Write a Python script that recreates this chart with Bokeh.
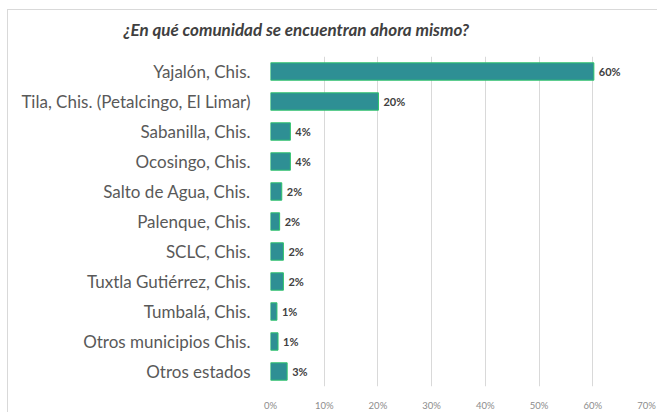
from bokeh.plotting import figure
from bokeh.models import ColumnDataSource, FactorRange, Range1d, FixedTicker, NumeralTickFormatter, Title
from bokeh.core.properties import value
from bokeh.embed import file_html
from bokeh.resources import INLINE

title_text = "¿En qué comunidad se encuentran ahora mismo?"
categories = [
    "Yajalón, Chis.",
    "Tila, Chis. (Petalcingo, El Limar)",
    "Sabanilla, Chis.",
    "Ocosingo, Chis.",
    "Salto de Agua, Chis.",
    "Palenque, Chis.",
    "SCLC, Chis.",
    "Tuxtla Gutiérrez, Chis.",
    "Tumbalá, Chis.",
    "Otros municipios Chis.",
    "Otros estados",
]
percent = [60.2, 20.1, 3.7, 3.7, 2.1, 1.7, 2.4, 2.4, 1.2, 1.4, 3.1]
x_ticks = [0, 0.1, 0.2, 0.3, 0.4, 0.5, 0.6, 0.7]

FONT = "Lato"

frac = [v / 100 for v in percent]
labels = ["%d%%" % round(v) for v in percent]
src = ColumnDataSource(dict(cat=categories, val=frac, lab=labels))

p = figure(
    width=650, height=403,
    y_range=FactorRange(factors=list(reversed(categories))),
    x_range=Range1d(0, 0.7),
    output_backend="svg", toolbar_location=None,
    min_border_left=262, min_border_right=12, min_border_top=46, min_border_bottom=19,
    styles={"margin-left": "7px", "margin-top": "9px",
            "border-top": "1px solid #d9d9d9", "border-left": "1px solid #d9d9d9"},
)
p.outline_line_color = None
p.background_fill_color = "white"
p.border_fill_color = "white"

# spacer between the frame and the title
spacer = Title(text=" ", text_font_size="1px", standoff=8)
p.add_layout(spacer, "above")

t = Title(text=title_text, align="left", offset=-147, vertical_align="middle",
          text_font=FONT, text_font_size="17px", text_font_style="bold italic",
          text_color="#404040", standoff=10)
p.add_layout(t, "above")

p.hbar(y="cat", right="val", left=0, height=0.58, source=src,
       fill_color="#2E8F94", line_color="#2EC46B", line_width=1)

p.text(x="val", y="cat", text="lab", source=src, x_offset=5,
       text_align="left", text_baseline="middle",
       text_font=value(FONT), text_font_size="11px", text_font_style="bold",
       text_color="#404040")

p.xgrid.ticker = FixedTicker(ticks=x_ticks)
p.xgrid.grid_line_color = "#d9d9d9"
p.ygrid.grid_line_color = None

xa = p.xaxis[0]
xa.ticker = FixedTicker(ticks=x_ticks)
xa.formatter = NumeralTickFormatter(format="0%")
xa.axis_line_color = None
xa.major_tick_line_color = None
xa.minor_tick_line_color = None
xa.major_label_text_font = FONT
xa.major_label_text_font_size = "9.5px"
xa.major_label_text_color = "#8c8c8c"
xa.major_label_standoff = 7

ya = p.yaxis[0]
ya.axis_line_color = None
ya.major_tick_line_color = None
ya.minor_tick_line_color = None
ya.major_label_text_font = FONT
ya.major_label_text_font_size = "17px"
ya.major_label_text_color = "#595959"
ya.major_label_standoff = 14

open("out.html", "w").write(file_html(p, INLINE))
